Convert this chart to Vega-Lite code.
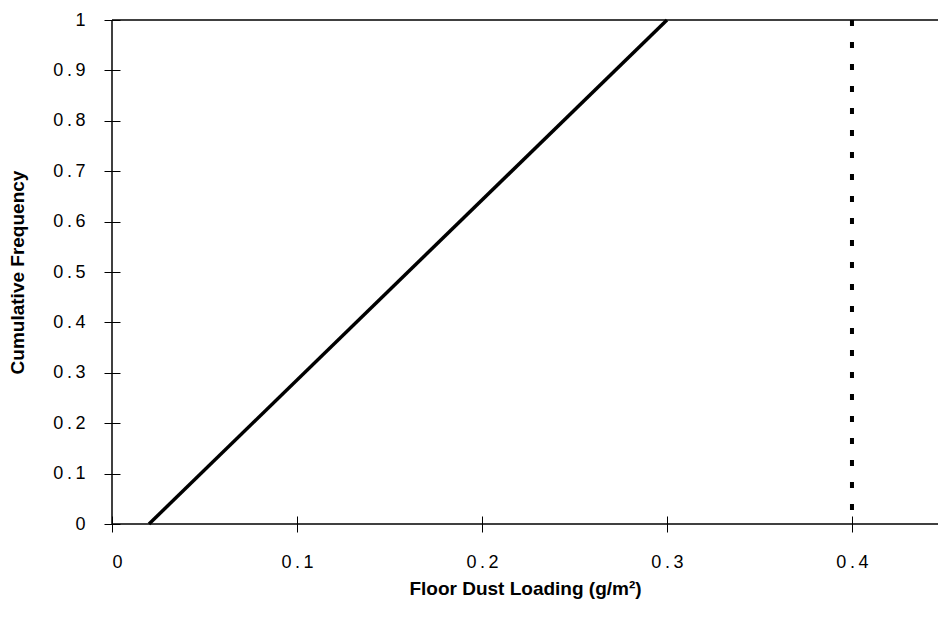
{
  "$schema": "https://vega.github.io/schema/vega-lite/v6.json",
  "autosize": "none",
  "width": 826,
  "height": 504,
  "padding": {"left": 112, "top": 20, "right": 0, "bottom": 109},
  "background": "white",
  "config": {
    "view": {"stroke": null},
    "font": "Liberation Sans",
    "axis": {
      "grid": false,
      "domain": false,
      "ticks": true,
      "tickColor": "black",
      "tickWidth": 1,
      "tickSize": 16,
      "offset": -8,
      "labelFont": "Liberation Sans",
      "labelFontSize": 18,
      "labelColor": "black",
      "titleFont": "Liberation Sans",
      "titleFontSize": 19,
      "titleFontWeight": "bold",
      "titleColor": "black"
    }
  },
  "datasets": {
    "cdf": [
      {"loading": 0.02, "freq": 0},
      {"loading": 0.3, "freq": 1}
    ],
    "limit": [
      {"loading": 0.4, "low": 0, "high": 1}
    ]
  },
  "layer": [
    {
      "data": {"values": [{}]},
      "mark": {"type": "rule", "color": "black", "strokeWidth": 1.5},
      "encoding": {"y": {"datum": 0, "type": "quantitative"}}
    },
    {
      "data": {"values": [{}]},
      "mark": {"type": "rule", "color": "black", "strokeWidth": 1.5},
      "encoding": {"y": {"datum": 1, "type": "quantitative"}}
    },
    {
      "data": {"values": [{}]},
      "mark": {"type": "rule", "color": "black", "strokeWidth": 1.5},
      "encoding": {"x": {"datum": 0, "type": "quantitative"}}
    },
    {
      "data": {"name": "cdf"},
      "mark": {"type": "line", "color": "black", "strokeWidth": 3.5, "clip": false},
      "encoding": {
        "x": {
          "field": "loading",
          "type": "quantitative",
          "scale": {"domain": [0, 0.4465], "nice": false, "zero": false},
          "axis": {
            "title": "Floor Dust Loading (g/m²)",
            "values": [0, 0.1, 0.2, 0.3, 0.4],
            "format": "~g",
            "labelExpr": "replace(datum.label, '.', '\u2009.\u2009')",
            "labelFontSize": 18,
            "labelPadding": 21,
            "titlePadding": 8
          }
        },
        "y": {
          "field": "freq",
          "type": "quantitative",
          "scale": {"domain": [0, 1], "nice": false},
          "axis": {
            "title": "Cumulative Frequency",
            "values": [0, 0.1, 0.2, 0.3, 0.4, 0.5, 0.6, 0.7, 0.8, 0.9, 1],
            "format": "~g",
            "labelExpr": "replace(datum.label, '.', '\u2009.\u2009')",
            "labelFontSize": 18,
            "labelPadding": 19,
            "titlePadding": 25
          }
        }
      }
    },
    {
      "data": {"name": "limit"},
      "mark": {"type": "rule", "color": "black", "strokeWidth": 4, "strokeDash": [6, 16]},
      "encoding": {
        "x": {"field": "loading", "type": "quantitative"},
        "y": {"field": "high", "type": "quantitative"},
        "y2": {"field": "low"}
      }
    }
  ]
}
